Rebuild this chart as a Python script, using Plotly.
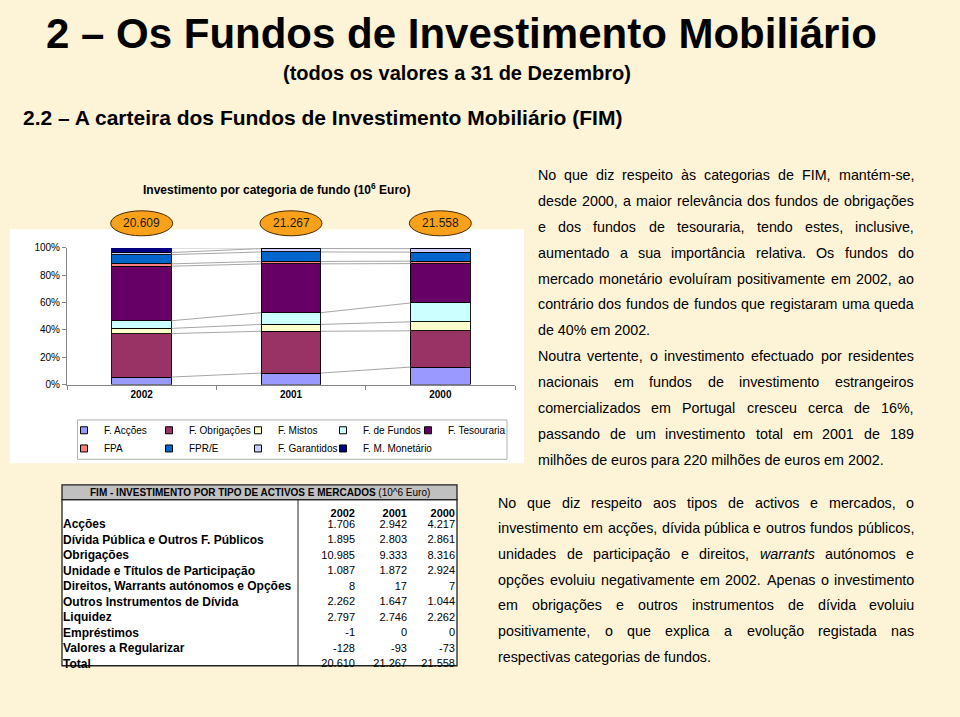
import plotly.graph_objects as go

W, H = 960, 717
FONT = "Liberation Sans, Arial, Helvetica, sans-serif"


def px(x):
    return x / W


def py(y):
    return 1 - y / H


# ---------------- data ----------------
years = ["2002", "2001", "2000"]
totals = ["20.609", "21.267", "21.558"]

fund_names = ["F. Acções", "F. Obrigações", "F. Mistos", "F. de Fundos", "F. Tesouraria",
              "FPA", "FPR/E", "F. Garantidos", "F. M. Monetário"]
f_accoes = [5.5, 8.4, 12.8]
f_obrigacoes = [31.8, 30.6, 26.5]
f_mistos = [3.8, 5.0, 6.6]
f_fundos = [5.6, 8.6, 13.8]
f_tesouraria = [39.9, 35.7, 28.8]
f_pa = [1.7, 1.8, 1.8]
f_pre = [6.8, 6.9, 6.6]
f_garantidos = [1.5, 2.5, 2.5]
f_monetario = [3.4, 0.5, 0.6]
fund_colors = ["#9999FF", "#993366", "#FFFFCC", "#CCFFFF", "#660066",
               "#FF8080", "#0066CC", "#CCCCFF", "#000080"]
y_ticks = [0, 20, 40, 60, 80, 100]

asset_labels = ["Acções", "Dívida Pública e Outros F. Públicos", "Obrigações",
                "Unidade e Títulos de Participação", "Direitos, Warrants autónomos e Opções",
                "Outros Instrumentos de Dívida", "Liquidez", "Empréstimos",
                "Valores a Regularizar", "Total"]
val_2002 = ["1.706", "1.895", "10.985", "1.087", "8", "2.262", "2.797", "-1", "-128", "20.610"]
val_2001 = ["2.942", "2.803", "9.333", "1.872", "17", "1.647", "2.746", "0", "-93", "21.267"]
val_2000 = ["4.217", "2.861", "8.316", "2.924", "7", "1.044", "2.262", "0", "-73", "21.558"]

para1_lines = [
    "No que diz respeito às categorias de FIM, mantém-se,",
    "desde 2000, a maior relevância dos fundos de obrigações",
    "e dos fundos de tesouraria, tendo estes, inclusive,",
    "aumentado a sua importância relativa. Os fundos do",
    "mercado monetário evoluíram positivamente em 2002, ao",
    "contrário dos fundos de fundos que registaram uma queda",
    "de 40% em 2002.",
    "Noutra vertente, o investimento efectuado por residentes",
    "nacionais em fundos de investimento estrangeiros",
    "comercializados em Portugal cresceu cerca de 16%,",
    "passando de um investimento total em 2001 de 189",
    "milhões de euros para 220 milhões de euros em 2002.",
]
para1_justify = [True] * 6 + [False] + [True] * 4 + [False]
para2_lines = [
    "No que diz respeito aos tipos de activos e mercados, o",
    "investimento em acções, dívida pública e outros fundos públicos,",
    "unidades de participação e direitos, <i>warrants</i> autónomos e",
    "opções evoluiu negativamente em 2002. Apenas o investimento",
    "em obrigações e outros instrumentos de dívida evoluiu",
    "positivamente, o que explica a evolução registada nas",
    "respectivas categorias de fundos.",
]
para2_justify = [True] * 6 + [False]

series = [f_accoes, f_obrigacoes, f_mistos, f_fundos, f_tesouraria,
          f_pa, f_pre, f_garantidos, f_monetario]

# ---------------- text width helper (Arial metrics) ----------------
AW = {' ': 278, ',': 278, '.': 278, '-': 333, '%': 889, '(': 333, ')': 333, '–': 556, '/': 278}
for ch, w in zip("abcdefghijklmnopqrstuvwxyz",
                 [556, 556, 500, 556, 556, 278, 556, 556, 222, 222, 500, 222, 833, 556, 556, 556,
                  556, 333, 500, 278, 556, 500, 722, 500, 500, 500]):
    AW[ch] = w
for ch, w in zip("ABCDEFGHIJKLMNOPQRSTUVWXYZ",
                 [667, 667, 722, 722, 667, 611, 778, 722, 278, 500, 667, 556, 833, 722, 778, 667,
                  778, 722, 667, 611, 722, 667, 944, 667, 667, 611]):
    AW[ch] = w
for ch in "0123456789":
    AW[ch] = 556
for ch, base in zip("àáâãéêíóôõúç", "aaaaeeiooouc"):
    AW[ch] = AW[base]


def strip_tags(s):
    for t in ("<i>", "</i>", "<b>", "</b>"):
        s = s.replace(t, "")
    return s


def text_w(s, size):
    return sum(AW.get(ch, 556) for ch in strip_tags(s)) / 1000 * size


fig = go.Figure()

# ---------------- series lines (between bars) ----------------
bw = 0.4
line_x, line_y = [], []
cum = [[0.0] * len(years)]
for s in series:
    cum.append([cum[-1][j] + s[j] for j in range(len(years))])
for k in range(1, len(cum)):
    for j in range(len(years) - 1):
        line_x += [j + bw / 2, j + 1 - bw / 2, None]
        line_y += [cum[k][j], cum[k][j + 1], None]
fig.add_trace(go.Scatter(x=line_x, y=line_y, mode="lines", xaxis="x2", yaxis="y",
                         line=dict(color="#A6A6A6", width=1), showlegend=False, hoverinfo="skip"))

# ---------------- stacked bars ----------------
for name, vals, col in zip(fund_names, series, fund_colors):
    fig.add_trace(go.Bar(x=years, y=vals, name=name,
                         marker=dict(color=col, line=dict(color="#000000", width=0.9)),
                         width=bw, showlegend=False, legendgroup=name))

# legend entries (small square swatches), 5 per row
legend_item_widths = [40, 44, 40, 40, 62, 40, 44, 40, 75]
for i, (name, col) in enumerate(zip(fund_names, fund_colors)):
    fig.add_trace(go.Scatter(x=[None], y=[None], mode="markers", xaxis="x2", yaxis="y", name=name,
                             legendgroup=name, legend="legend" if i < 5 else "legend2",
                             legendwidth=legend_item_widths[i],
                             marker=dict(symbol="square", size=7, color=col,
                                         line=dict(color="#000000", width=1)),
                             hoverinfo="skip"))

# ---------------- table ----------------
nb = "\u00a0"
fig.add_trace(go.Table(
    domain=dict(x=[px(55), px(463)], y=[py(678), py(503)]),
    columnwidth=[248, 60, 52, 48],
    header=dict(values=[""] + years,
                align=["left", "right", "right", "right"],
                fill=dict(color="rgba(0,0,0,0)"), line=dict(width=0),
                font=dict(family=FONT, size=11, color="#000000", weight="bold"), height=10.9),
    cells=dict(values=[[l.replace(" ", nb) for l in asset_labels], val_2002, val_2001, val_2000],
               align=["left", "right", "right", "right"],
               fill=dict(color="rgba(0,0,0,0)"), line=dict(width=0),
               font=dict(family=FONT, size=[12, 11, 11, 11], color="#000000",
                         weight=["bold", "normal", "normal", "normal"]), height=15.5),
))

shapes = [
    dict(type="rect", xref="paper", yref="paper", x0=px(10), x1=px(524), y0=py(465), y1=py(227),
         fillcolor="#FFFFFF", line=dict(width=0), layer="below"),
    dict(type="rect", xref="paper", yref="paper", x0=px(77.5), x1=px(507), y0=py(461), y1=py(421),
         fillcolor="rgba(0,0,0,0)", line=dict(color="#B0B0B0", width=1), layer="below"),
    dict(type="rect", xref="paper", yref="paper", x0=px(62), x1=px(457), y0=py(671), y1=py(502),
         fillcolor="#FFFFFF", line=dict(color="#222222", width=1.3), layer="below"),
    dict(type="rect", xref="paper", yref="paper", x0=px(62), x1=px(457), y0=py(502), y1=py(487),
         fillcolor="#C0C0C0", line=dict(color="#222222", width=1.3), layer="below"),
    dict(type="line", xref="paper", yref="paper", x0=px(298), x1=px(298), y0=py(671), y1=py(502),
         line=dict(color="#222222", width=1), layer="below"),
]
annotations = []

for i, t in enumerate(totals):
    cx = (i + 0.5) / len(years)
    shapes.append(dict(type="circle", xref="x domain", yref="paper", xsizemode="pixel", ysizemode="pixel",
                       xanchor=cx, yanchor=py(221), x0=-31, x1=31, y0=-12.5, y1=12.5,
                       fillcolor="#F9A11B", line=dict(color="#4A2A00", width=1), layer="above"))
    annotations.append(dict(x=cx, y=py(221), xref="x domain", yref="paper", text=t, showarrow=False,
                            font=dict(family=FONT, size=12, color="#1A1A1A"),
                            xanchor="center", yanchor="middle"))

annotations.append(dict(x=px(276), y=py(186), xref="paper", yref="paper", showarrow=False,
                        text="<b>Investimento por categoria de fundo (10<sup>6</sup> Euro)</b>",
                        font=dict(family=FONT, size=12, color="#000000"), xanchor="center", yanchor="middle"))

annotations.append(dict(x=px(46), y=py(28), xref="paper", yref="paper", showarrow=False,
                        text="<b>2 – Os Fundos de Investimento Mobiliário</b>",
                        font=dict(family=FONT, size=42, color="#000000"), xanchor="left", yanchor="middle",
                        borderpad=0, borderwidth=0))
annotations.append(dict(x=px(283), y=py(68), xref="paper", yref="paper", showarrow=False,
                        text="<b>(todos os valores a 31 de Dezembro)</b>",
                        font=dict(family=FONT, size=20, color="#000000"), xanchor="left", yanchor="middle",
                        borderpad=0, borderwidth=0))
annotations.append(dict(x=px(22.7), y=py(113.5), xref="paper", yref="paper", showarrow=False,
                        text="<b>2.2 – A carteira dos Fundos de Investimento Mobiliário (FIM)</b>",
                        font=dict(family=FONT, size=21, color="#000000"), xanchor="left", yanchor="middle",
                        borderpad=0, borderwidth=0))

annotations.append(dict(x=px(260), y=py(494.5), xref="paper", yref="paper", showarrow=False,
                        text="<b>FIM - INVESTIMENTO POR TIPO DE ACTIVOS E MERCADOS</b> (10^6 Euro)",
                        font=dict(family=FONT, size=10, color="#000000"), xanchor="center", yanchor="middle",
                        borderpad=0, borderwidth=0))


def add_paragraph(lines, justify, left, right, y0, step, size):
    for k, (ln, jus) in enumerate(zip(lines, justify)):
        yc = y0 + k * step
        words = ln.split(" ")
        common = dict(xref="paper", yref="paper", showarrow=False, yanchor="middle",
                      borderpad=0, borderwidth=0, font=dict(family=FONT, size=size, color="#000000"))
        if jus and len(words) > 1:
            widths = [text_w(w, size) for w in words]
            gap = (right - left - sum(widths)) / (len(words) - 1)
            x = left
            for wi, (w, ww) in enumerate(zip(words, widths)):
                if wi == len(words) - 1:
                    annotations.append(dict(x=px(right), y=py(yc), text=w, xanchor="right", **common))
                else:
                    annotations.append(dict(x=px(x), y=py(yc), text=w, xanchor="left", **common))
                x += ww + gap
        else:
            annotations.append(dict(x=px(left), y=py(yc), text=ln, xanchor="left", **common))


add_paragraph(para1_lines, para1_justify, 537.7, 914.0, 172.0, 26.3, 14.3)
add_paragraph(para2_lines, para2_justify, 498.3, 914.3, 505.0, 26.1, 14.3)

legend_common = dict(orientation="h", xanchor="left", yanchor="middle", entrywidth=40,
                     entrywidthmode="pixels", bgcolor="rgba(0,0,0,0)", borderwidth=0,
                     font=dict(family=FONT, size=10, color="#000000"), itemsizing="trace",
                     traceorder="normal")

fig.update_layout(
    width=W, height=H, margin=dict(l=0, r=0, t=0, b=0),
    paper_bgcolor="#FDF3D6", plot_bgcolor="#FFFFFF",
    barmode="stack",
    font=dict(family=FONT, size=10, color="#000000"),
    xaxis=dict(domain=[px(67), px(515)], type="category", range=[-0.5, 2.5],
               showline=True, linecolor="#868686", linewidth=1, ticks="outside", tickson="boundaries",
               ticklen=4, tickcolor="#868686", showgrid=False, zeroline=False,
               tickvals=years, ticktext=["<b>%s</b>" % y for y in years],
               tickfont=dict(family=FONT, size=10, color="#000000"), anchor="y"),
    xaxis2=dict(overlaying="x", range=[-0.5, 2.5], visible=False, anchor="y"),
    yaxis=dict(domain=[py(385), py(246)], range=[0, 100], tickmode="array", tickvals=y_ticks,
               ticktext=["%d%%" % v for v in y_ticks], showline=True, linecolor="#868686", linewidth=1,
               ticks="outside", ticklen=4, tickcolor="#868686", showgrid=False, zeroline=False,
               tickfont=dict(family=FONT, size=10, color="#000000")),
    legend=dict(x=px(64), y=py(431.5), **legend_common),
    legend2=dict(x=px(64), y=py(450), **legend_common),
    shapes=shapes, annotations=annotations,
    showlegend=True,
)

fig.write_html("out.html")
